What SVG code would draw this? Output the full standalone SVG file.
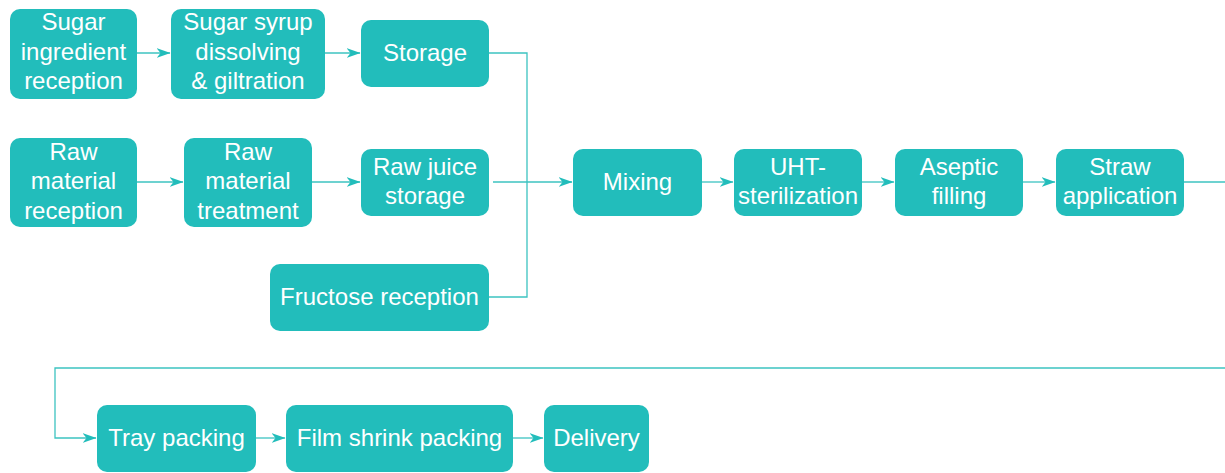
<svg xmlns="http://www.w3.org/2000/svg" width="1225" height="473" viewBox="0 0 1225 473">
<style>
.n{fill:#22BDBB;}
.t{fill:#fff;font-family:"Liberation Sans",Arial,sans-serif;font-size:24px;text-anchor:middle;}
.c{fill:none;stroke:#3CC3C1;stroke-width:1.3;}
</style>
<defs>
<marker id="a" viewBox="0 0 14 10" refX="13.5" refY="5" markerWidth="14" markerHeight="10" markerUnits="userSpaceOnUse" orient="auto">
<path d="M0,0 L14,5 L0,10 L4,5 z" fill="#22BDBB"/>
</marker>
</defs>
<rect width="1225" height="473" fill="#fff"/>
<g id="connectors">
<path class="c" d="M137,53 H170" marker-end="url(#a)"/>
<path class="c" d="M325,53 H360" marker-end="url(#a)"/>
<path class="c" d="M489,53 H527 V297 H489"/>
<path class="c" d="M493,182 H572" marker-end="url(#a)"/>
<path class="c" d="M137,182 H183" marker-end="url(#a)"/>
<path class="c" d="M312,182 H360" marker-end="url(#a)"/>
<path class="c" d="M702,182 H733" marker-end="url(#a)"/>
<path class="c" d="M862,182 H894" marker-end="url(#a)"/>
<path class="c" d="M1023,182 H1055" marker-end="url(#a)"/>
<path class="c" d="M1184,182 H1225"/>
<path class="c" d="M1225,368 H55 V438 H96" marker-end="url(#a)"/>
<path class="c" d="M256,438 H285" marker-end="url(#a)"/>
<path class="c" d="M513,438 H543" marker-end="url(#a)"/>
</g>
<g id="sugar-reception"><rect class="n" x="10" y="9" width="127" height="90" rx="10"/><text class="t" x="73.5" y="30">Sugar</text><text class="t" x="73.5" y="60">ingredient</text><text class="t" x="73.5" y="89">reception</text></g>
<g id="syrup"><rect class="n" x="171" y="9" width="154" height="90" rx="10"/><text class="t" x="248" y="30">Sugar syrup</text><text class="t" x="248" y="60">dissolving</text><text class="t" x="248" y="89">&amp; giltration</text></g>
<g id="storage"><rect class="n" x="361" y="20" width="128" height="67" rx="10"/><text class="t" x="425" y="61">Storage</text></g>
<g id="raw-reception"><rect class="n" x="10" y="138" width="127" height="89" rx="10"/><text class="t" x="73.5" y="160">Raw</text><text class="t" x="73.5" y="189">material</text><text class="t" x="73.5" y="219">reception</text></g>
<g id="raw-treatment"><rect class="n" x="184" y="138" width="128" height="89" rx="10"/><text class="t" x="248" y="160">Raw</text><text class="t" x="248" y="189">material</text><text class="t" x="248" y="219">treatment</text></g>
<g id="raw-juice"><rect class="n" x="361" y="149" width="128" height="67" rx="10"/><text class="t" x="425" y="175">Raw juice</text><text class="t" x="425" y="204">storage</text></g>
<g id="fructose"><rect class="n" x="270" y="264" width="219" height="67" rx="10"/><text class="t" x="379.5" y="305">Fructose reception</text></g>
<g id="mixing"><rect class="n" x="573" y="149" width="129" height="67" rx="10"/><text class="t" x="637.5" y="190">Mixing</text></g>
<g id="uht"><rect class="n" x="734" y="149" width="128" height="67" rx="10"/><text class="t" x="798" y="175">UHT-</text><text class="t" x="798" y="204">sterilization</text></g>
<g id="aseptic"><rect class="n" x="895" y="149" width="128" height="67" rx="10"/><text class="t" x="959" y="175">Aseptic</text><text class="t" x="959" y="204">filling</text></g>
<g id="straw"><rect class="n" x="1056" y="149" width="128" height="67" rx="10"/><text class="t" x="1120" y="175">Straw</text><text class="t" x="1120" y="204">application</text></g>
<g id="tray"><rect class="n" x="97" y="405" width="159" height="67" rx="10"/><text class="t" x="176.5" y="446">Tray packing</text></g>
<g id="film"><rect class="n" x="286" y="405" width="227" height="67" rx="10"/><text class="t" x="399.5" y="446">Film shrink packing</text></g>
<g id="delivery"><rect class="n" x="544" y="405" width="105" height="67" rx="10"/><text class="t" x="596.5" y="446">Delivery</text></g>
</svg>
